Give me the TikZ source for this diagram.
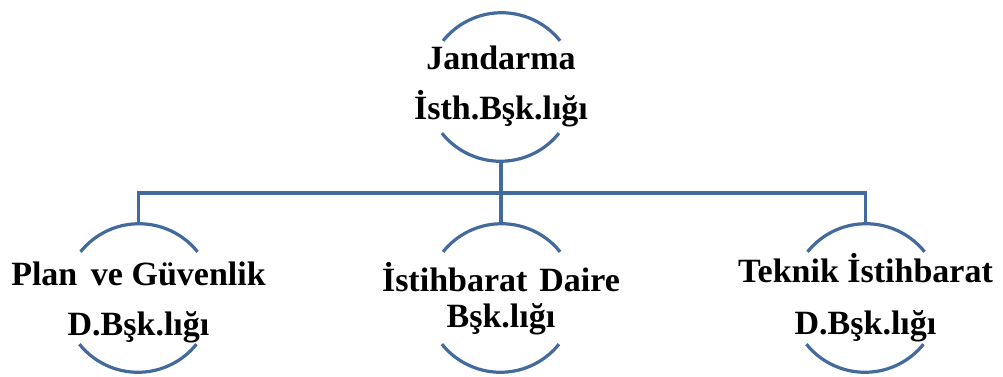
\documentclass[tikz,border=0pt]{standalone}
\usepackage{fontspec}
\setmainfont{Liberation Serif}
\definecolor{linkblue}{RGB}{66,106,157}
\tikzset{
  ring/.style={circle, minimum size=150pt, inner sep=0pt, outer sep=0pt, draw=none},
  arcline/.style={draw=linkblue, line width=3.2pt},
  conn/.style={draw=linkblue, line width=3.2pt},
  lbl/.style={align=center, inner sep=0pt, font=\bfseries\fontsize{34}{50}\selectfont},
  lbltight/.style={align=center, inner sep=0pt, font=\bfseries\fontsize{34}{36}\selectfont},
}
\newcommand{\ringarcs}[1]{%
  \draw[arcline] (#1.38.7) arc[start angle=38.7, end angle=141.3, radius=75pt];
  \draw[arcline] (#1.218.7) arc[start angle=218.7, end angle=321.3, radius=75pt];
}
\begin{document}
\begin{tikzpicture}[x=1pt,y=1pt]
\useasboundingbox (0,0) rectangle (1003,376);
% circles
\node[ring] (top) at (501,289) {};
\node[ring] (lft) at (138.5,78) {};
\node[ring] (mid) at (501,78) {};
\node[ring] (rgt) at (865.5,78) {};
\ringarcs{top}
\ringarcs{lft}
\ringarcs{mid}
\ringarcs{rgt}
% labels
\node[lbl] (ttop) at ([yshift=1pt]top.center) {Jandarma\\İsth.Bşk.lığı};
\node[lbl] (tlft) at ([yshift=-4pt]lft.center) {Plan\hspace{0.15em} ve Güvenlik\\D.Bşk.lığı};
\node[lbltight] (tmid) at ([yshift=-1pt]mid.center) {İstihbarat\hspace{0.1em} Daire\\Bşk.lığı};
\node[font=\bfseries\fontsize{34}{52}\selectfont, align=center, inner sep=0pt] (trgt) at ([yshift=0pt]rgt.center) {Teknik İstihbarat\\D.Bşk.lığı};
% connectors
\coordinate (bus) at (501,183);
\draw[conn] (top.south) -- (mid.north);
\draw[conn] (lft.north) |- (bus) -| (rgt.north);
\end{tikzpicture}
\end{document}
